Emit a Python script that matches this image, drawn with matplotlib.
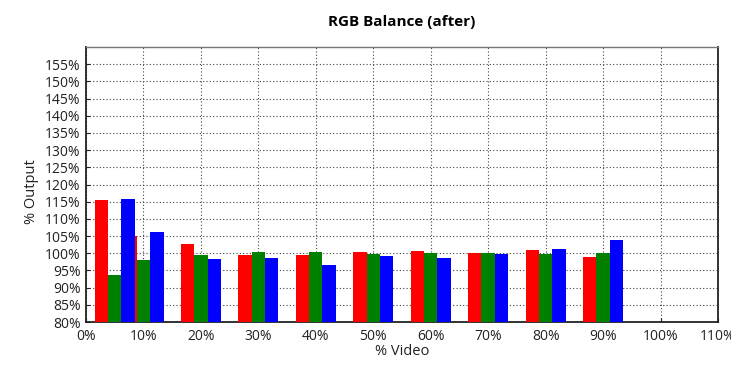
import matplotlib
matplotlib.use("Agg")
import matplotlib.pyplot as plt
from matplotlib.transforms import Bbox

plt.rcParams["font.family"] = ["Open Sans", "DejaVu Sans"]

# % video levels and measured output per channel
levels = [5, 10, 20, 30, 40, 50, 60, 70, 80, 90]
red_vals = [115.6, 104.9, 102.7, 99.6, 99.6, 100.5, 100.6, 100.0, 101.0, 98.9]
green_vals = [93.7, 97.9, 99.5, 100.3, 100.5, 99.9, 100.0, 100.0, 99.8, 100.0]
blue_vals = [115.8, 106.1, 98.2, 98.6, 96.5, 99.3, 98.7, 99.8, 101.2, 104.0]

x_ticks = list(range(0, 111, 10))
y_ticks = list(range(80, 156, 5))

bar_w = 2.33

fig = plt.figure(figsize=(7.49, 3.71), dpi=100)
ax = fig.add_axes([0.1148, 0.132, 0.8438, 0.7413])

series = [(red_vals, "#ff0000", -bar_w), (green_vals, "#008000", 0), (blue_vals, "#0000ff", bar_w)]
for vals, col, off in series:
    ax.bar([x + off for x in levels], [v - 80 for v in vals], bottom=80,
           width=bar_w, color=col, zorder=3)

ax.set_xlim(0, 110)
ax.set_ylim(80, 160)
ax.set_xticks(x_ticks)
ax.set_xticklabels([f"{t}%" for t in x_ticks])
ax.set_yticks(y_ticks)
ax.set_yticklabels([f"{t}%" for t in y_ticks])
ax.tick_params(direction="in", length=3, labelsize=10, colors="#222222")
ax.tick_params(axis="x", pad=5)
ax.tick_params(axis="y", pad=4)

ax.grid(True, linestyle=(0, (1, 2)), color="#444444", linewidth=0.8, zorder=0)

for s in ["left", "bottom", "right"]:
    ax.spines[s].set_color("#222222")
    ax.spines[s].set_linewidth(1.3)
ax.spines["top"].set_color("#777777")
ax.spines["top"].set_linewidth(1.0)

ax.set_xlabel("% Video", fontsize=10.5, color="#222222")
ax.set_ylabel("% Output", fontsize=10.5, color="#222222")
ax.xaxis.set_label_coords(0.5, -0.08)
ax.yaxis.set_label_coords(-0.074, 0.473)
ax.set_title("RGB Balance (after)", fontsize=11, fontweight="bold", pad=15)

# the last tick label is cut off in the original
fig.canvas.draw()
last = ax.get_xticklabels()[-1]
last.set_clip_box(Bbox.from_extents(0, 0, 731, 371))
last.set_clip_on(True)

fig.savefig("out.png", dpi=100)
